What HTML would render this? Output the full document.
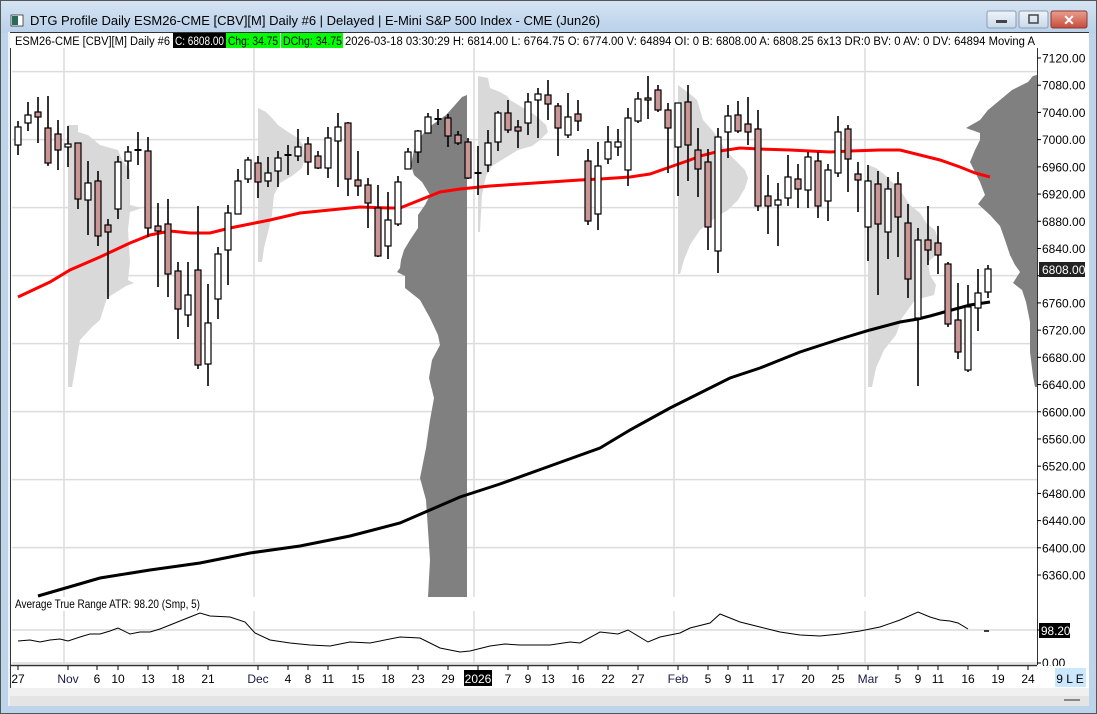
<!DOCTYPE html>
<html><head><meta charset="utf-8"><style>
html,body{margin:0;padding:0;width:1097px;height:714px;overflow:hidden;background:#bcd4ec;font-family:"Liberation Sans",sans-serif;}
svg{position:absolute;left:0;top:0}
</style></head><body>
<svg width="1097" height="714" viewBox="0 0 1097 714" xmlns="http://www.w3.org/2000/svg" font-family="Liberation Sans, sans-serif">
<defs><linearGradient id="tb" x1="0" y1="0" x2="0" y2="1"><stop offset="0" stop-color="#d6e4f3"/><stop offset="1" stop-color="#b9d1ea"/></linearGradient>
<linearGradient id="cx" x1="0" y1="0" x2="0" y2="1"><stop offset="0" stop-color="#e8a090"/><stop offset="1" stop-color="#c74b3a"/></linearGradient>
<linearGradient id="bt" x1="0" y1="0" x2="0" y2="1"><stop offset="0" stop-color="#eef3f9"/><stop offset="1" stop-color="#c9d9ea"/></linearGradient></defs>
<rect x="0" y="0" width="1097" height="714" fill="#bcd4ec"/>
<rect x="0" y="0" width="1097" height="33" fill="url(#tb)"/>
<rect x="0.5" y="0.5" width="1096" height="713" fill="none" stroke="#555" />
<rect x="11" y="15" width="12" height="11" fill="#fff" stroke="#333" stroke-width="0.8"/><rect x="12" y="16" width="6" height="9" fill="#2a6a5a"/>
<text x="30" y="25" font-size="13" fill="#000">DTG Profile Daily ESM26-CME [CBV][M]  Daily #6 | Delayed | E-Mini S&amp;P 500 Index - CME (Jun26)</text>
<rect x="987" y="11" width="29" height="17" rx="2" fill="url(#bt)" stroke="#8a9cb0"/><rect x="996" y="20" width="11" height="3" fill="#444"/>
<rect x="1019" y="11" width="29" height="17" rx="2" fill="url(#bt)" stroke="#8a9cb0"/><rect x="1029" y="15" width="9" height="8" fill="none" stroke="#444" stroke-width="1.5"/>
<rect x="1051" y="11" width="36" height="17" rx="2" fill="url(#cx)" stroke="#8a3a30"/><text x="1069" y="25" font-size="14" font-weight="bold" fill="#fff" text-anchor="middle">✕</text>
<rect x="8" y="32" width="1081" height="674" fill="#f0f0f0"/>
<rect x="10" y="32" width="1079" height="656" fill="#fff"/>
<line x1="10.5" y1="32" x2="10.5" y2="688" stroke="#333"/>
<line x1="10" y1="32.5" x2="1089" y2="32.5" stroke="#333"/>
<rect x="10" y="696" width="1079" height="10" fill="#e4e4e4"/>
<rect x="1064" y="699" width="16" height="2" fill="#888"/>
<g stroke="#dcdcdc" stroke-width="1.5">
<line x1="12" y1="71.6" x2="1037" y2="71.6"/><line x1="12" y1="139.6" x2="1037" y2="139.6"/><line x1="12" y1="207.6" x2="1037" y2="207.6"/><line x1="12" y1="275.6" x2="1037" y2="275.6"/><line x1="12" y1="343.6" x2="1037" y2="343.6"/><line x1="12" y1="411.6" x2="1037" y2="411.6"/><line x1="12" y1="479.6" x2="1037" y2="479.6"/><line x1="12" y1="547.6" x2="1037" y2="547.6"/>
<line x1="64" y1="48" x2="64" y2="597"/><line x1="254" y1="48" x2="254" y2="597"/><line x1="474" y1="48" x2="474" y2="597"/><line x1="674" y1="48" x2="674" y2="597"/><line x1="865" y1="48" x2="865" y2="597"/>
<line x1="64" y1="611" x2="64" y2="664"/><line x1="254" y1="611" x2="254" y2="664"/><line x1="474" y1="611" x2="474" y2="664"/><line x1="674" y1="611" x2="674" y2="664"/><line x1="865" y1="611" x2="865" y2="664"/>
<line x1="12" y1="630" x2="1037" y2="630"/><line x1="12" y1="663" x2="1037" y2="663"/>
</g>
<g fill="#d9d9d9">
<polygon points="68,125 78,125 78,132 88,135 100,145 118,150 122,160 130,170 130,205 142,208 130,212 128,230 130,262 128,280 134,283 126,286 107,298 100,320 92,327 80,340 75,370 72,387 68,387"/>
<polygon points="258,108 266,112 272,118 278,125 288,132 298,138 303,145 305,158 302,168 292,176 280,183 274,195 272,215 268,232 264,248 262,262 258,262"/>
<polygon points="478,76 488,78 490,88 500,92 507,96 510,100 520,106 535,115 546,125 548,132 540,140 532,146 518,150 505,158 492,166 486,176 482,195 480,232 478,232"/>
<polygon points="678,85 682,88 690,94 697,100 700,110 703,120 712,130 720,140 725,150 735,160 745,170 748,178 745,188 738,200 728,210 715,218 700,230 690,245 684,260 680,274 678,274"/>
<polygon points="868,165 876,168 885,175 892,182 900,190 910,205 920,213 927,224 935,230 940,245 936,255 928,262 930,275 936,285 934,295 915,300 902,318 896,335 884,350 876,368 872,387 868,387"/>
</g>
<g fill="#808080">
<polygon points="467,95 462,97 455,105 446,115 432,125 422,135 414,150 411,165 414,175 422,182 430,195 425,205 418,215 418,228 410,240 404,250 401,260 400,268 397,272 405,276 405,288 420,300 430,318 438,335 440,345 432,360 429,378 434,398 430,420 426,448 420,478 426,500 428,530 430,560 428,597 467,597"/>
<polygon points="1037,75 1033,76 1028,82 1012,90 1000,100 988,110 980,120 966,128 980,133 980,140 975,150 970,162 975,172 980,182 985,195 978,204 990,215 1000,226 1005,240 1010,255 1015,265 1020,272 1013,283 1022,290 1026,302 1030,322 1030,352 1033,376 1035,387 1037,387"/>
</g>
<polyline fill="none" stroke="#f00" stroke-width="3" points="18,297 50,282 70,270 100,257 130,243 150,235 170,231 190,233 210,233 230,228 250,224 270,220 300,213 330,210 360,207 390,208 400,208 420,200 440,192 460,189 470,188 490,186 520,184 550,182 580,180 600,179 630,177 650,174 670,167 690,160 700,156 720,151 740,148 760,149 790,150 810,151 830,152 850,151 880,150 900,150 920,155 940,160 960,167 975,173 990,177"/>
<polyline fill="none" stroke="#000" stroke-width="3" points="38,596 100,578 150,570 200,563 250,553 300,546 350,536 400,523 430,510 460,497 500,484 550,466 600,448 630,430 670,408 700,393 730,378 760,368 800,352 840,339 870,330 900,322 918,319 930,316 948,311 970,305 990,302"/>
<g id="candles"></g>
<polyline fill="none" stroke="#000" stroke-width="1" points="18,641 30,640 40,642 50,640 60,639 68,641 80,637 90,634 100,634 110,631 118,628 130,634 140,632 150,632 160,629 170,625 180,621 190,617 200,613 210,616 230,617 245,622 255,633 270,640 290,643 310,645 330,646 350,642 370,643 400,637 420,638 440,648 460,652 470,651 490,646 505,644 520,645 550,645 570,642 580,643 600,632 618,634 628,630 648,642 660,637 680,633 690,628 710,623 720,614 740,622 760,627 780,632 800,635 820,636 840,634 860,631 880,627 900,620 918,612 930,617 940,620 950,621 958,623 968,629"/>
<line x1="984" y1="631" x2="989" y2="631" stroke="#000" stroke-width="1.5"/>
<line x1="10" y1="665.5" x2="1037" y2="665.5" stroke="#333" stroke-width="1.5"/>
<line x1="1037.5" y1="48" x2="1037.5" y2="665" stroke="#333"/>
<rect x="10" y="33" width="1026" height="15" fill="#fff"/>
<g font-size="11.5" fill="#000">
<text x="15" y="45" textLength="155" lengthAdjust="spacingAndGlyphs">ESM26-CME [CBV][M]  Daily #6</text>
<rect x="173" y="33" width="53" height="15" fill="#000"/><text x="175" y="45" fill="#fff" textLength="49" lengthAdjust="spacingAndGlyphs">C: 6808.00</text>
<rect x="226" y="33" width="54" height="15" fill="#00ff00"/><text x="228" y="45" textLength="50" lengthAdjust="spacingAndGlyphs">Chg: 34.75</text>
<rect x="281" y="33" width="62" height="15" fill="#00ff00"/><text x="283" y="45" textLength="59" lengthAdjust="spacingAndGlyphs">DChg: 34.75</text>
<text x="345" y="45" textLength="690" lengthAdjust="spacingAndGlyphs">2026-03-18 03:30:29 H: 6814.00 L: 6764.75 O: 6774.00 V: 64894 OI: 0 B: 6808.00 A: 6808.25 6x13 DR:0 BV: 0 AV: 0 DV: 64894 Moving A</text>
</g>
<text x="15" y="608" font-size="12" textLength="185" lengthAdjust="spacingAndGlyphs">Average True Range  ATR: 98.20  (Smp, 5)</text>
<g font-size="12" fill="#000" id="ax"></g>
<rect x="1039" y="262" width="46" height="15" fill="#222"/><text x="1042" y="274" font-size="12" fill="#fff">6808.00</text>
<rect x="1039" y="623" width="31" height="15" fill="#000"/><text x="1041" y="635" font-size="12" fill="#fff" textLength="36" lengthAdjust="spacingAndGlyphs">98.200</text>
<line x1="1037" y1="630" x2="1041" y2="630" stroke="#000"/>
<line x1="1037" y1="663" x2="1041" y2="663" stroke="#000"/>
<text x="1042" y="667" font-size="12">0.00</text>
<rect x="1037" y="666" width="52" height="22" fill="#fff"/>
<g font-size="12" fill="#000" text-anchor="middle" id="dx"></g>
<rect x="1055" y="668" width="31" height="19" fill="#cce8ff"/><text x="1070" y="683" font-size="12" text-anchor="middle">9 L E</text>
</svg>
<script>
var N="http://www.w3.org/2000/svg";
function el(t,a,p){var e=document.createElementNS(N,t);for(var k in a)e.setAttribute(k,a[k]);p.appendChild(e);return e;}
var C=[[18,127,145,121,155,0],[28,115,123,102,131,0],[38,112,117,97,143,1],[48,128,163,96,166,1],[58,134,150,120,170,1],[68,144,147,126,167,0],[78,143,199,143,209,1],[88,183,200,161,235,0],[98,181,236,171,246,1],[108,225,232,219,299,1],[118,162,209,156,219,0],[128,152,161,146,179,0],[138,150,150,132,165,2],[148,151,228,137,237,1],[158,226,231,203,287,1],[168,224,274,199,297,1],[178,271,309,262,339,1],[188,295,315,262,327,0],[198,270,365,206,369,1],[208,323,364,284,386,0],[218,254,299,247,319,0],[228,213,250,205,285,0],[238,181,214,169,214,0],[248,160,179,157,183,0],[258,163,182,156,198,1],[268,173,181,157,187,0],[278,158,171,151,187,0],[288,155,155,145,175,2],[298,147,156,129,161,0],[308,144,162,137,175,1],[318,156,168,151,169,1],[328,138,168,127,178,0],[338,127,141,113,187,0],[348,123,179,122,196,1],[358,180,186,151,196,1],[368,185,203,178,228,1],[378,208,256,185,257,1],[388,220,246,192,259,0],[398,182,224,176,226,0],[408,152,169,148,169,0],[418,131,152,130,163,0],[428,117,133,113,133,0],[438,119,119,109,125,2],[448,118,136,114,147,1],[458,135,143,131,145,1],[468,142,178,138,179,1],[478,173,173,146,195,2],[488,143,165,130,172,0],[498,113,142,111,151,0],[508,113,130,100,133,1],[518,127,131,120,148,1],[528,102,123,93,135,0],[538,94,100,88,138,0],[548,95,104,80,120,1],[558,106,128,103,156,1],[568,117,135,93,138,0],[578,114,121,100,131,1],[588,161,221,149,225,1],[598,166,214,142,230,0],[608,142,159,126,164,0],[618,142,147,129,156,0],[628,118,170,108,186,0],[638,99,121,92,123,0],[648,98,100,76,119,1],[658,90,110,85,112,1],[668,110,128,103,173,1],[678,103,147,103,196,0],[688,102,145,85,181,1],[698,150,169,128,197,1],[708,162,227,149,250,1],[718,137,251,128,273,0],[728,116,132,105,158,0],[738,115,131,101,133,1],[748,124,132,97,145,1],[758,129,206,110,211,1],[768,196,206,175,234,1],[778,200,205,183,246,0],[788,177,198,155,206,0],[798,179,189,164,208,1],[808,157,190,152,208,0],[818,161,206,152,218,1],[828,170,201,164,221,0],[838,132,173,116,177,0],[848,129,159,125,192,1],[858,174,180,162,212,1],[868,181,227,165,261,0],[878,184,224,171,295,1],[888,189,232,177,259,0],[898,184,217,172,257,1],[908,223,279,204,298,1],[918,240,318,228,386,0],[928,240,250,206,265,1],[938,243,255,226,274,1],[948,264,324,262,327,1],[958,320,352,283,359,1],[968,307,370,285,372,0],[978,293,308,269,331,0],[988,269,292,265,298,0]];
var g=document.getElementById("candles");
C.forEach(function(c){var x=c[0];
el("line",{x1:x,y1:c[3],x2:x,y2:c[4],stroke:"#000","stroke-width":1.6},g);
if(c[5]==2){el("line",{x1:x-3.5,y1:c[1],x2:x+3.5,y2:c[1],stroke:"#000","stroke-width":2},g);}
else el("rect",{x:x-3,y:c[1],width:6,height:Math.max(c[2]-c[1],2),fill:c[5]?"#c99595":"#fff",stroke:"#000","stroke-width":1.2},g);});
var ax=document.getElementById("ax");
for(var p=7120;p>=6360;p-=40){var y=58+(7120-p)*0.6803;
el("line",{x1:1037,y1:y,x2:1041,y2:y,stroke:"#000"},ax);
if(p==6800)continue;
var t=el("text",{x:1042,y:y+4.5},ax);t.textContent=p.toFixed(2);}
var D=[["27",18],["Nov",68],["6",97],["10",118],["13",148],["18",178],["21",208],["Dec",258],["4",288],["8",308],["11",328],["15",358],["18",388],["23",418],["29",448],["2026",478],["7",508],["9",528],["13",548],["16",578],["22",608],["27",638],["Feb",678],["5",708],["9",728],["11",748],["17",778],["20",808],["25",838],["Mar",868],["5",898],["9",918],["11",938],["16",968],["19",998],["24",1028]];
var dx=document.getElementById("dx");
D.forEach(function(d){el("line",{x1:d[1],y1:666,x2:d[1],y2:670,stroke:"#000"},dx);
if(d[0]=="2026")el("rect",{x:d[1]-14,y:670,width:28,height:16,fill:"#000"},dx);
var t=el("text",{x:d[1],y:683,fill:d[0]=="2026"?"#fff":(isNaN(+d[0])?"#1a1a4a":"#000")},dx);t.textContent=d[0];});
</script>
</body></html>
